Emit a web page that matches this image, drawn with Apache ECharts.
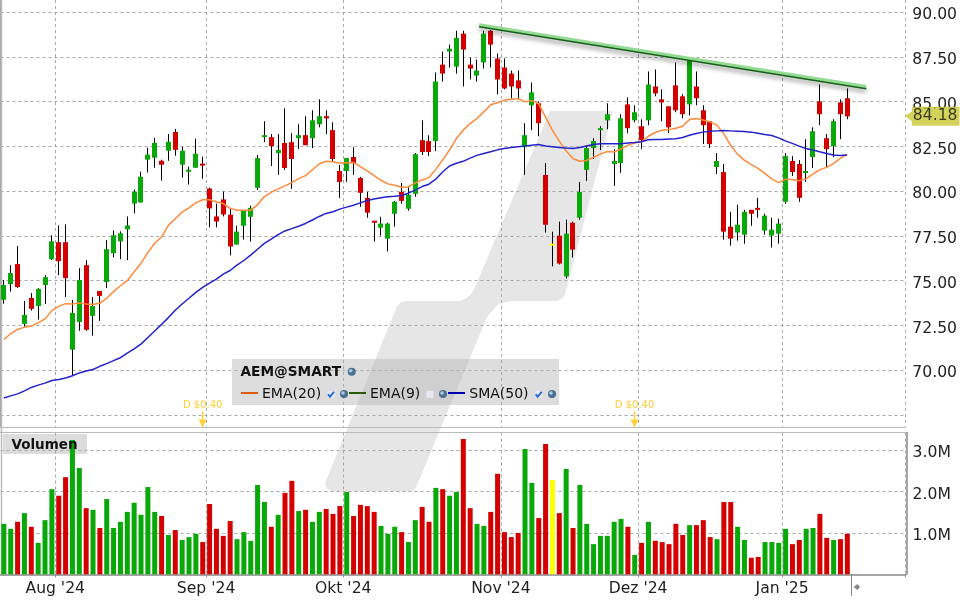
<!DOCTYPE html>
<html>
<head>
<meta charset="utf-8">
<title>AEM@SMART</title>
<style>
  html, body { margin: 0; padding: 0; background: #fff; }
  #chart { width: 960px; height: 600px; }
</style>
<script src="https://cdn.jsdelivr.net/npm/echarts@6/dist/echarts.min.js"></script>
</head>
<body>
<div id="chart"></div>
<script>
const opens = [
  73.94,74.81,75.93,72.59,74.04,73.59,74.76,76.20,77.15,77.15,
  71.15,72.70,75.87,73.04,74.43,74.93,76.54,77.20,77.87,79.31,
  79.37,81.76,81.87,81.70,82.26,83.31,81.48,81.09,81.31,81.54,
  80.15,78.59,79.54,78.69,77.02,78.07,78.57,80.19,83.02,83.02,
  82.13,82.69,82.74,82.96,83.13,82.96,83.74,84.19,83.41,81.13,
  81.13,81.91,80.74,79.63,78.35,77.96,77.35,78.74,79.96,79.02,
  79.85,82.85,82.80,82.80,87.07,87.80,86.96,88.80,87.07,86.46,
  87.19,88.96,87.41,86.91,86.57,86.19,82.46,84.80,84.91,80.91,
  77.07,77.52,75.24,78.24,78.52,81.19,82.41,83.41,83.96,81.52,
  81.57,84.85,83.96,83.63,83.96,85.85,85.13,84.74,85.91,85.30,
  84.85,85.85,84.52,83.91,81.35,81.07,78.02,77.69,77.57,78.96,
  79.07,77.80,77.52,77.63,79.41,81.69,81.52,81.02,81.91,85.02,
  82.96,82.52,84.96,85.19
];
const closes = [
  74.76,75.43,74.65,73.09,73.43,74.54,75.20,77.20,76.09,75.15,
  73.20,75.04,72.26,73.59,74.15,76.76,77.54,77.65,78.09,79.98,
  80.81,82.04,82.70,81.48,82.76,82.31,82.26,81.20,82.09,81.43,
  79.04,78.31,78.70,76.91,77.74,78.91,79.07,81.85,83.13,82.52,
  82.30,81.30,81.80,83.13,82.57,83.96,84.19,84.07,81.80,80.52,
  81.85,81.57,79.91,78.80,78.24,78.19,78.19,79.41,79.46,79.80,
  82.07,82.19,82.19,86.13,86.57,87.96,88.57,87.91,86.85,86.74,
  88.80,88.19,86.24,85.74,85.85,85.74,83.13,85.52,83.80,78.13,
  77.07,75.96,77.63,76.74,79.96,82.41,82.80,83.52,84.30,81.69,
  84.07,83.52,84.41,82.85,85.96,85.46,84.96,83.57,84.52,84.30,
  87.35,85.19,83.69,82.63,81.69,77.74,77.35,78.13,78.85,78.74,
  78.96,78.63,77.85,78.19,81.96,81.07,79.63,81.13,83.35,84.30,
  82.35,83.91,84.30,84.18
];
const lows = [
  73.72,74.39,74.59,72.41,73.33,72.83,73.70,76.15,75.31,74.09,
  69.72,72.20,72.20,71.93,72.76,74.59,76.31,76.20,76.15,78.76,
  79.37,81.04,81.31,80.59,81.70,81.98,80.76,80.37,81.31,80.70,
  77.98,77.98,78.59,76.41,77.02,77.30,77.19,80.07,82.74,81.41,
  80.91,81.19,80.13,82.35,82.57,82.41,83.57,83.19,81.63,79.63,
  80.52,80.91,79.13,78.52,77.19,77.52,76.63,78.02,79.30,78.91,
  79.69,82.02,81.96,82.24,86.13,86.91,86.57,85.85,86.24,86.13,
  86.85,86.91,85.41,85.69,85.19,85.13,80.91,83.41,83.07,77.69,
  75.80,75.91,75.13,76.30,78.41,80.57,81.80,82.30,83.46,80.30,
  81.02,83.24,83.85,82.35,83.69,85.30,83.91,83.24,84.41,84.07,
  84.24,84.80,82.63,82.41,80.96,77.30,76.96,77.24,77.07,78.07,
  78.52,77.57,76.85,77.07,79.30,80.85,79.41,80.52,81.30,83.69,
  81.35,81.91,82.91,84.02
];
const highs = [
  75.04,75.87,76.93,73.87,74.31,74.59,75.31,77.54,78.09,78.15,
  73.93,75.70,76.15,74.09,74.43,77.26,77.81,77.76,78.59,80.09,
  81.09,82.43,82.98,81.76,83.20,83.48,82.48,81.37,82.93,81.93,
  80.20,79.31,79.98,79.07,78.07,78.91,79.19,82.02,83.91,83.19,
  83.19,84.63,83.24,83.74,84.19,84.52,85.13,84.52,83.85,81.46,
  81.85,82.46,80.80,79.96,78.35,78.57,78.24,79.46,80.46,80.30,
  82.13,83.96,83.13,86.63,87.80,88.19,88.96,88.96,87.46,87.35,
  88.96,89.00,87.69,87.41,86.74,86.74,83.80,86.07,85.02,81.57,
  77.74,78.30,78.41,78.30,80.52,82.57,82.96,83.63,84.91,82.35,
  84.30,85.24,84.80,84.02,86.69,86.80,85.69,84.74,87.19,85.41,
  87.41,86.69,84.80,83.91,82.13,81.52,78.85,79.24,78.96,78.96,
  79.63,78.74,78.52,78.46,82.13,81.96,81.74,82.91,83.57,85.96,
  83.19,84.02,85.13,85.74
];
const ema20 = [
  71.72,72.04,72.28,72.41,72.46,72.65,72.87,73.33,73.57,73.72,
  73.70,73.76,73.70,73.67,73.74,74.02,74.39,74.72,75.00,75.50,
  75.98,76.57,77.09,77.44,78.09,78.46,78.83,79.07,79.35,79.52,
  79.52,79.41,79.31,79.04,78.94,78.93,78.94,79.24,79.70,79.94,
  80.13,80.30,80.48,80.70,80.87,81.20,81.52,81.67,81.65,81.57,
  81.59,81.61,81.37,81.13,80.87,80.61,80.41,80.33,80.22,80.24,
  80.46,80.63,80.76,81.22,81.74,82.30,82.94,83.41,83.78,84.06,
  84.43,84.83,84.94,85.09,85.13,85.17,85.00,85.06,84.89,84.15,
  83.41,82.81,82.26,81.83,81.67,81.72,81.89,82.07,82.22,82.19,
  82.35,82.56,82.69,82.76,83.07,83.28,83.41,83.44,83.52,83.63,
  84.00,84.06,83.98,83.87,83.69,83.22,82.57,82.07,81.74,81.50,
  81.28,81.00,80.69,80.48,80.67,80.65,80.59,80.69,80.96,81.19,
  81.33,81.54,81.83,82.06
];
const sma50 = [
  68.45,68.57,68.68,68.85,69.04,69.17,69.28,69.43,69.48,69.57,
  69.69,69.85,69.96,70.04,70.22,70.37,70.54,70.70,70.96,71.20,
  71.46,71.83,72.19,72.56,72.94,73.35,73.70,74.02,74.35,74.63,
  74.87,75.09,75.37,75.57,75.87,76.13,76.43,76.76,77.09,77.33,
  77.57,77.78,77.91,78.04,78.20,78.39,78.59,78.76,78.85,79.00,
  79.11,79.22,79.35,79.48,79.57,79.63,79.69,79.72,79.76,79.89,
  80.06,80.26,80.39,80.67,81.07,81.41,81.56,81.67,81.85,82.00,
  82.11,82.20,82.31,82.39,82.44,82.48,82.52,82.57,82.61,82.52,
  82.48,82.44,82.41,82.39,82.44,82.52,82.61,82.65,82.65,82.65,
  82.65,82.69,82.72,82.76,82.87,82.89,82.89,82.91,82.93,83.00,
  83.13,83.22,83.30,83.35,83.37,83.39,83.37,83.35,83.33,83.30,
  83.24,83.17,83.11,82.98,82.81,82.67,82.52,82.39,82.30,82.20,
  82.11,82.02,82.00,82.02
];
// volume in millions of shares
const volumes = [
  1.22,1.10,1.27,1.48,1.15,0.76,1.31,2.06,1.90,2.35,
  3.25,2.57,1.60,1.56,1.12,1.82,1.12,1.27,1.51,1.73,
  1.44,2.11,1.51,1.41,0.95,1.07,0.83,0.90,0.98,0.78,
  1.70,1.10,0.93,1.29,0.85,1.02,0.81,2.16,1.75,1.15,
  1.44,1.97,2.26,1.53,1.56,1.27,1.51,1.58,1.46,1.65,
  1.99,1.41,1.68,1.65,1.51,1.17,0.98,1.15,1.02,0.78,
  1.31,1.63,1.27,2.09,2.06,1.90,1.99,3.27,1.60,1.22,
  1.17,1.51,2.43,1.02,0.90,1.00,3.03,2.21,1.36,3.15,
  2.28,1.48,2.55,1.12,2.16,1.22,0.73,0.93,0.93,1.27,
  1.34,1.15,0.47,0.76,1.27,0.81,0.78,0.73,1.22,0.95,
  1.19,1.19,1.31,0.90,0.85,1.75,1.75,1.15,0.83,0.40,
  0.42,0.78,0.78,0.76,1.10,0.73,0.83,1.10,1.12,1.46,
  0.88,0.83,0.85,0.98
];

const barSlots = 132; // 124 sessions plus the empty space on the right
const monthIndexes = [8, 30, 50, 73, 93, 114];
const monthLabels = ["Aug '24", "Sep '24", "Okt '24", "Nov '24", "Dez '24", "Jan '25"];
const priceTicks = [67.5, 70, 72.5, 75, 77.5, 80, 82.5, 85, 87.5, 90];
const volumeTicks = [1, 2, 3];
const dividendIndexes = [29, 92];
const dividendLevel = 67.25;
const dividendText = 'D $0.40';
const lastPrice = 84.18;
const trendX = [69.83, 126.3];
const trendLight = [89.27, 85.82];
const trendDark = [89.19, 85.72];

const GREEN = '#08a808';
const RED = '#d40000';
const YELLOW = '#ffff00';
const FONT = '"DejaVu Sans", sans-serif';

const categories = Array.from({ length: barSlots }, (_, i) => {
  const m = monthIndexes.indexOf(i);
  return m >= 0 ? monthLabels[m] : String(i);
});
const isMonth = (i) => monthIndexes.includes(i);

function barColor(i) {
  if (opens[i] === closes[i]) return YELLOW;
  return closes[i] > opens[i] ? GREEN : RED;
}

const candles = opens.map((o, i) => [i, o, closes[i], lows[i], highs[i]]);

function renderCandle(params, api) {
  const i = api.value(0);
  const x = Math.round(api.coord([i, 0])[0] - 0.5) + 0.5;
  const yTop = api.coord([i, Math.max(api.value(1), api.value(2))])[1];
  const yBot = api.coord([i, Math.min(api.value(1), api.value(2))])[1];
  return {
    type: 'group',
    children: [
      {
        type: 'line',
        shape: { x1: x, y1: api.coord([i, api.value(4)])[1], x2: x, y2: api.coord([i, api.value(3)])[1] },
        style: { stroke: '#000', lineWidth: 1 }
      },
      {
        type: 'rect',
        shape: { x: x - 2.5, y: yTop, width: 5, height: Math.max(yBot - yTop, 2) },
        style: { fill: barColor(i) }
      }
    ]
  };
}

const gridDash = { color: '#a8a8a8', width: 1, type: [3, 3] };

function hLine(x1, x2, y, color, width, z) {
  return { type: 'line', z: z || 1, shape: { x1, y1: y, x2, y2: y }, style: { stroke: color, lineWidth: width || 1 } };
}
function label(text, x, y, size, weight, z) {
  return {
    type: 'text', z: z || 20, x, y,
    style: { text, fontFamily: FONT, fontSize: size, fontWeight: weight || 'normal', fill: '#111', verticalAlign: 'middle' }
  };
}
function gear(x, y) {
  return [
    { type: 'circle', z: 20, shape: { cx: x, cy: y, r: 4 }, style: { fill: '#4b6f8f' } },
    { type: 'circle', z: 20, shape: { cx: x - 1, cy: y - 1, r: 1.8 }, style: { fill: '#a9cbe6' } }
  ];
}
function checkbox(x, y, checked) {
  const parts = [
    { type: 'rect', z: 20, shape: { x: x - 3.5, y: y - 3.5, width: 7, height: 7 }, style: { fill: '#e8e8f4' } }
  ];
  if (checked) {
    parts.push({
      type: 'polyline', z: 21,
      shape: { points: [[x - 3, y], [x - 1, y + 2.5], [x + 3, y - 2.5]] },
      style: { stroke: '#1565d8', fill: 'none', lineWidth: 1.8 }
    });
  }
  return parts;
}

const option = {
  animation: false,
  backgroundColor: '#fff',
  textStyle: { fontFamily: FONT },
  grid: [
    { left: 0.44, width: 905.16, top: 0, height: 427 },
    { left: 0.44, width: 905.16, top: 432.5, height: 141.8 }
  ],
  xAxis: [
    {
      type: 'category', gridIndex: 0, data: categories,
      axisLine: { lineStyle: { color: '#bbb' } },
      axisTick: { show: false }, axisLabel: { show: false },
      splitLine: { show: true, interval: (i) => isMonth(i), lineStyle: gridDash }
    },
    {
      type: 'category', gridIndex: 1, data: categories,
      axisLine: { lineStyle: { color: '#888', width: 1.5 } },
      axisTick: { show: true, interval: (i) => isMonth(i), length: 3, lineStyle: { color: '#888' } },
      axisLabel: {
        interval: (i) => isMonth(i), margin: 7, fontSize: 15.6, color: '#222', fontFamily: FONT,
        padding: [0, 7, 0, 0], hideOverlap: false
      },
      splitLine: { show: true, interval: (i) => isMonth(i), lineStyle: gridDash }
    },
    { type: 'value', gridIndex: 0, min: 0, max: barSlots, show: false }
  ],
  yAxis: [
    {
      type: 'value', gridIndex: 0, position: 'right', offset: 1, min: 66.83, max: 90.68, scale: true,
      axisLine: { show: true, lineStyle: { color: '#888', width: 1.5 } },
      axisTick: { show: false, customValues: priceTicks },
      axisLabel: {
        customValues: priceTicks.filter((v) => v >= 70), margin: 6, fontSize: 15.6, color: '#222', fontFamily: FONT,
        verticalAlign: 'top', lineHeight: 6, formatter: (v) => v.toFixed(2)
      },
      splitLine: { show: true, lineStyle: gridDash }
    },
    {
      type: 'value', gridIndex: 1, position: 'right', offset: 1, min: 0, max: 3.43,
      axisLine: { show: true, lineStyle: { color: '#888', width: 1.5 } },
      axisTick: { show: false, customValues: volumeTicks },
      axisLabel: {
        customValues: volumeTicks, margin: 6, fontSize: 15.6, color: '#222', fontFamily: FONT,
        verticalAlign: 'top', lineHeight: 6, formatter: (v) => v.toFixed(1) + 'M'
      },
      splitLine: { show: true, lineStyle: gridDash }
    }
  ],
  series: [
    {
      name: 'AEM', type: 'custom', xAxisIndex: 0, yAxisIndex: 0, z: 2,
      renderItem: renderCandle, data: candles, encode: { x: 0, y: [1, 2, 3, 4] }
    },
    {
      name: 'EMA(20)', type: 'line', xAxisIndex: 0, yAxisIndex: 0, z: 3, data: ema20,
      symbol: 'none', lineStyle: { color: '#ff8a3a', width: 1.5 }
    },
    {
      name: 'SMA(50)', type: 'line', xAxisIndex: 0, yAxisIndex: 0, z: 3, data: sma50,
      symbol: 'none', lineStyle: { color: '#2222cc', width: 1.5 }
    },
    {
      name: 'Trend', type: 'line', xAxisIndex: 2, yAxisIndex: 0, z: 4,
      data: trendX.map((x, i) => [x, trendLight[i]]), symbol: 'none',
      lineStyle: { color: '#93da93', width: 4, cap: 'butt', shadowColor: 'rgba(0,0,0,0.3)', shadowBlur: 4, shadowOffsetY: 4 }
    },
    {
      name: 'TrendEdge', type: 'line', xAxisIndex: 2, yAxisIndex: 0, z: 5,
      data: trendX.map((x, i) => [x, trendDark[i]]), symbol: 'none',
      lineStyle: { color: '#17601a', width: 1.6 }
    },
    {
      name: 'Dividende', type: 'scatter', xAxisIndex: 0, yAxisIndex: 0, z: 4, clip: false,
      data: dividendIndexes.map((i) => [i, dividendLevel]),
      symbol: 'path://M3.2 0 L4.8 0 L4.8 8 L8 8 L4 16 L0 8 L3.2 8 Z', symbolSize: [8, 16],
      itemStyle: { color: '#ffc400' },
      label: {
        show: true, position: 'top', distance: 1, formatter: dividendText,
        color: '#ffc400', fontSize: 10, fontFamily: FONT
      }
    },
    {
      name: 'Last', type: 'scatter', xAxisIndex: 2, yAxisIndex: 0, z: 6, clip: false,
      data: [[barSlots, lastPrice]],
      symbol: 'path://M0 5 L7 0 L7 10 Z', symbolSize: [7, 10], symbolOffset: [3, 0],
      itemStyle: { color: '#c8c832' },
      label: {
        show: true, position: 'right', distance: 0, formatter: lastPrice.toFixed(2),
        backgroundColor: '#c8c832', color: '#111', fontSize: 15.6, fontFamily: FONT,
        padding: [4, 2, 0, 1], lineHeight: 15, borderRadius: 1
      }
    },
    {
      name: 'Volumen', type: 'bar', xAxisIndex: 1, yAxisIndex: 1, z: 2, barWidth: 5,
      data: volumes, itemStyle: { color: (p) => barColor(p.dataIndex) }
    }
  ],
  graphic: {
    elements: [
      // watermark
      {
        type: 'polygon', z: -1,
        shape: {
          points: [
            [550, 111], [613, 111], [566.7, 288], [564, 297], [558, 301], [510, 301], [498, 304], [487, 317],
            [416.7, 486], [414, 490], [410, 491.7], [333, 491.7], [327, 489], [325, 483], [396.7, 307], [401, 302],
            [407, 301], [460, 301], [467, 298], [473, 291.7]
          ]
        },
        style: { fill: '#e6e6e6' }
      },
      // panel frames
      { type: 'line', z: 1, shape: { x1: 1.5, y1: 0, x2: 1.5, y2: 574 }, style: { stroke: '#bbb', lineWidth: 1.5 } },
      hLine(0, 906, 432.5, '#bbb', 1),
      { type: 'line', z: 1, shape: { x1: 851.5, y1: 574, x2: 851.5, y2: 596 }, style: { stroke: '#888', lineWidth: 1 } },
      { type: 'polygon', z: 1, shape: { points: [[853.5, 587], [857.5, 584], [860, 587], [857.5, 590]] }, style: { fill: '#888' } },
      // volume caption
      { type: 'rect', z: -0.5, shape: { x: 3, y: 434, width: 84, height: 20 }, style: { fill: '#dcdcdc' } },
      label('Volumen', 11.5, 445, 13.5, 'bold'),
      // legend box
      { type: 'rect', z: 10, shape: { x: 232, y: 359, width: 327, height: 46 }, style: { fill: 'rgba(180,180,180,0.45)' } },
      label('AEM@SMART', 240.5, 372, 13.7, 'bold'),
      ...gear(351.7, 371.7),
      hLine(241, 258, 393, '#d95b10', 2, 20), label('EMA(20)', 262, 394, 14),
      ...checkbox(331, 394.3, true), ...gear(344, 394),
      hLine(349, 366, 393, '#2b5a00', 2, 20), label('EMA(9)', 370, 394, 14),
      ...checkbox(430, 394.3, false), ...gear(443, 394),
      hLine(448, 465, 393, '#0000b0', 2, 20), label('SMA(50)', 469.3, 394, 14),
      ...checkbox(538.7, 394.3, true), ...gear(552, 394)
    ]
  }
};

const chart = echarts.init(document.getElementById('chart'));
chart.setOption(option);
</script>
</body>
</html>
